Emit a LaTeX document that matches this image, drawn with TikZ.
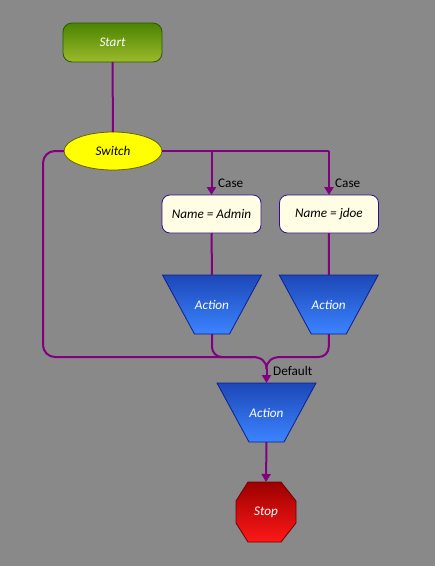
\documentclass[tikz,border=0pt]{standalone}
\usepackage{fontspec}
\setmainfont{Carlito}
\usetikzlibrary{shapes.geometric,arrows.meta}
\definecolor{bgc}{RGB}{137,137,137}
\definecolor{lineP}{RGB}{128,0,128}
\definecolor{stTop}{RGB}{74,132,0}
\definecolor{stBot}{RGB}{156,186,44}
\definecolor{stBd}{RGB}{40,90,0}
\definecolor{swFill}{RGB}{255,255,0}
\definecolor{swBd}{RGB}{100,100,0}
\definecolor{nmFill}{RGB}{255,253,228}
\definecolor{nmBd}{RGB}{46,16,140}
\definecolor{acTop}{RGB}{28,72,184}
\definecolor{acBot}{RGB}{60,132,255}
\definecolor{acBd}{RGB}{14,30,140}
\definecolor{spTop}{RGB}{156,0,0}
\definecolor{spBot}{RGB}{255,24,24}
\definecolor{spBd}{RGB}{110,0,0}
\newcommand\myActShape[2]{%
  \shade[top color=acTop, bottom color=acBot, draw=acBd, line width=0.8pt]
    (#1-49.5,#2) -- (#1+49.5,#2) -- (#1+17.5,#2+59) -- (#1-17.5,#2+59) -- cycle;}
\begin{document}
\begin{tikzpicture}[x=1pt,y=-1pt,
  txt/.style={font=\fontsize{13.2}{15}\selectfont\itshape},
  startbox/.style={txt, rectangle, rounded corners=9pt, minimum width=99pt, minimum height=39pt,
    inner sep=0pt, outer sep=0pt, draw=stBd, line width=0.8pt, top color=stTop, bottom color=stBot, text=white},
  switchbox/.style={txt, ellipse, minimum width=98pt, minimum height=38pt, inner sep=0pt, outer sep=0pt,
    draw=swBd, line width=0.8pt, fill=swFill, text=black},
  namebox/.style={txt, rectangle, rounded corners=8pt, minimum width=99pt, minimum height=38pt,
    inner sep=0pt, outer sep=0pt, draw=nmBd, line width=0.8pt, fill=nmFill, text=black},
  actnode/.style={txt, rectangle, minimum width=99pt, minimum height=59pt, inner sep=0pt, outer sep=0pt, text=white},
  stopnode/.style={txt, rectangle, minimum width=60pt, minimum height=60pt, inner sep=0pt, outer sep=0pt, text=white},
  conn/.style={draw=lineP, line width=2pt},
  arr/.style={-{Triangle[length=8pt,width=9pt]}},
  lbl/.style={font=\fontsize{13.2}{15}\selectfont, text=black, inner sep=0pt}
]
\fill[bgc] (0,0) rectangle (435,566);
\useasboundingbox (0,0) rectangle (435,566);

\coordinate (jL) at (252,357);
\coordinate (jR) at (281,357);
\coordinate (m) at (266.5,369);

\node[startbox] (start) at (112.5,42.5) {Start};
\node[switchbox] (sw) at (113,151) {Switch};
\node[namebox] (n1) at (211.5,214) {Name = Admin};
\node[namebox] (n2) at (329,214) {Name = jdoe};

\myActShape{212}{275}
\node[actnode] (a1) at (212,304.5) {Action};
\myActShape{328.75}{275}
\node[actnode] (a2) at (328.75,304.5) {Action};
\myActShape{266.5}{383}
\node[actnode] (a3) at (266.5,412.5) {Action};

\shade[top color=spTop, bottom color=spBot, draw=spBd, line width=0.8pt]
  (248,482) -- (281,482) -- (296,501) -- (296,523) -- (281,542) -- (248,542) -- (236,523) -- (236,501) -- cycle;
\node[stopnode] (stop) at (266,512) {Stop};

\draw[conn] (start.south) -- (sw.north);
\draw[conn] (sw.east) -- (n2.north |- sw.east);
\draw[conn, arr] (n2.north |- sw.east) -- (n2.north);
\draw[conn, arr] (n1.north |- sw.east) -- (n1.north);
\draw[conn] (n1.south) -- (a1.north);
\draw[conn] (n2.south) -- (a2.north);
\draw[conn, rounded corners=12pt] (sw.west) -| (43,357) -- (jL);
\draw[conn, rounded corners=10pt] (a1.south) |- (jL);
\draw[conn, rounded corners=10pt] (a2.south) |- (jR);
\draw[conn] (jL) .. controls (261,357) and (266.5,361) .. (m);
\draw[conn] (jR) .. controls (272,357) and (266.5,361) .. (m);
\draw[conn, arr] (m) -- (a3.north);
\draw[conn, arr] (a3.south) -- (stop.north);

\node[lbl, anchor=west] (c1) at (218,183) {Case};
\node[lbl, anchor=west] (c2) at (335,183) {Case};
\node[lbl, anchor=west] (df) at (273,371) {Default};
\end{tikzpicture}
\end{document}
